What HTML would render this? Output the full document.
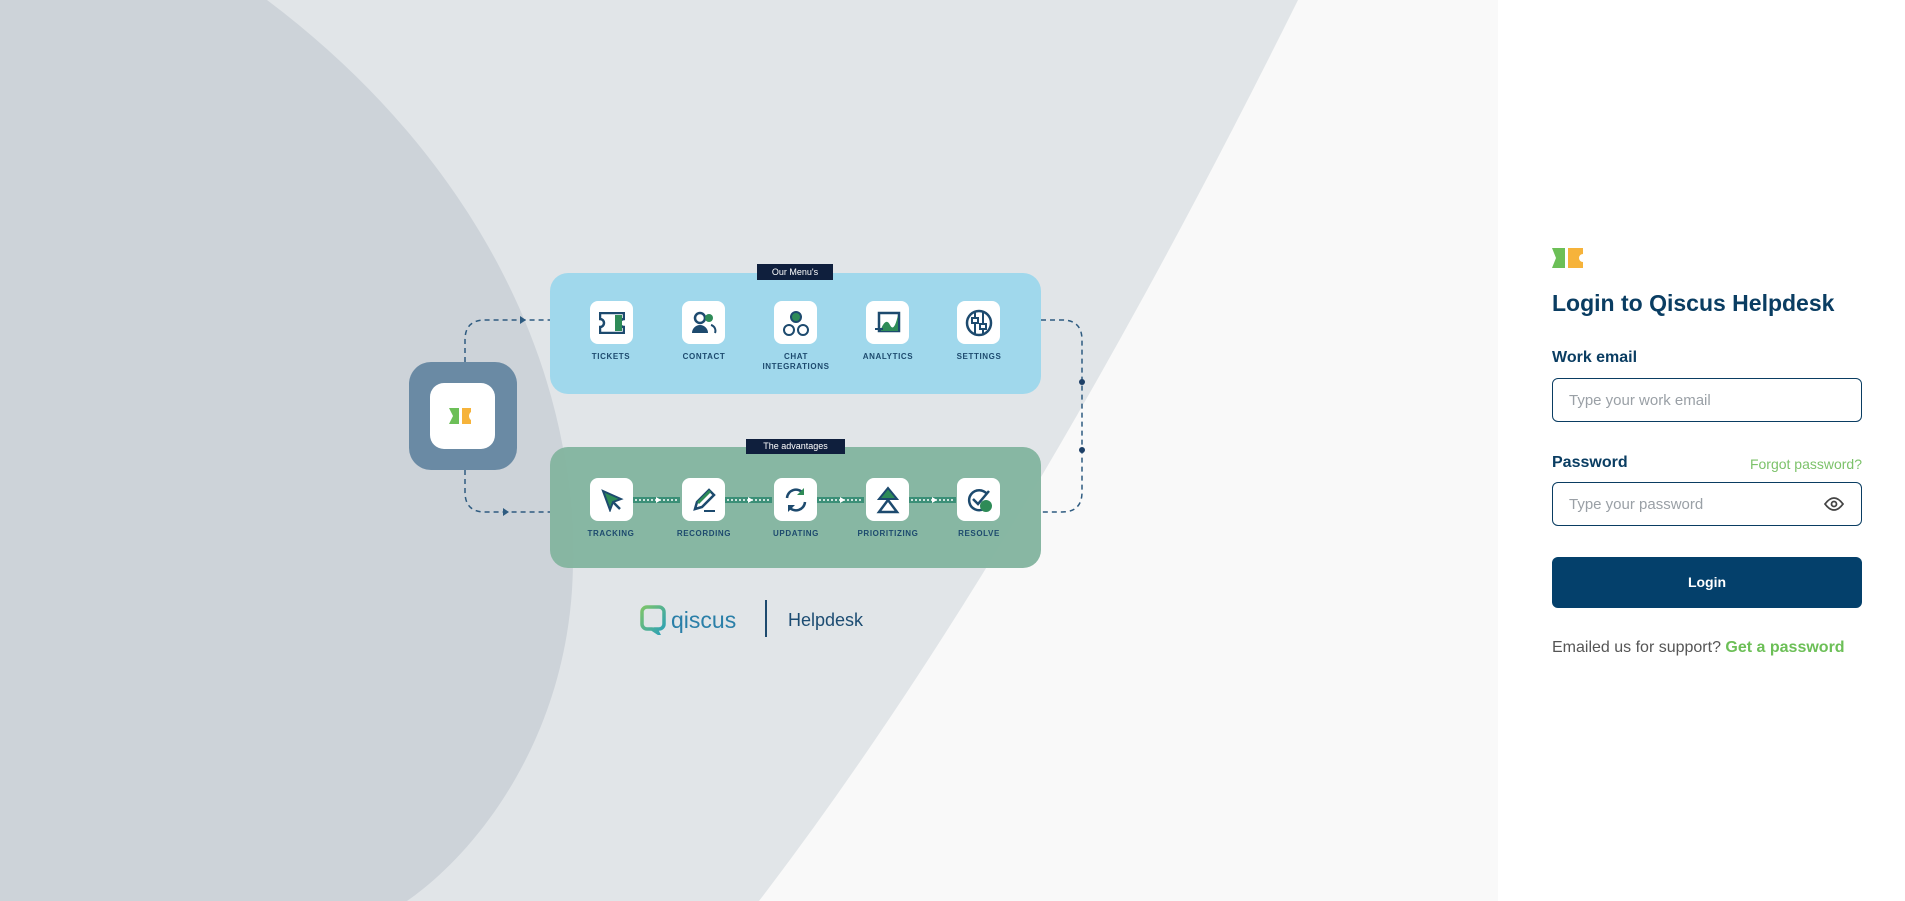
<!DOCTYPE html>
<html><head><meta charset="utf-8"><style>
*{margin:0;padding:0;box-sizing:border-box}
body{width:1905px;height:901px;overflow:hidden;background:#f9f9f9;font-family:"Liberation Sans",sans-serif;position:relative}
.a{position:absolute}
.ib{position:absolute;width:43px;height:43px;background:#fff;border-radius:8px;display:flex;align-items:center;justify-content:center}
.lb{position:absolute;width:110px;text-align:center;font-size:8px;font-weight:bold;color:#1d4a6e;letter-spacing:.6px;line-height:10px}
.in{position:absolute;left:1552px;width:310px;height:44px;border:1.5px solid #0a3d62;border-radius:6px;font-size:15px;color:#9aa0a6;padding:13px 0 0 16px}
</style></head><body>
<svg class="a" style="left:0;top:0" width="1498" height="901">
<path d="M267 0 L1298 0 Q1020 560 759 901 L0 901 Z" fill="#e1e5e8"/>
<path d="M0 0 L267 0 C480 160 585 380 572 590 C562 740 480 850 407 901 L0 901 Z" fill="#cdd3d9"/>
<g fill="none" stroke="#2e5b80" stroke-width="1.5" stroke-dasharray="5,4">
<path d="M465 362 V340 Q465 320 485 320 H550"/>
<path d="M465 470 V492 Q465 512 485 512 H550"/>
<path d="M1041 320 H1062 Q1082 320 1082 340 V492 Q1082 512 1062 512 H1041"/>
</g>
<path d="M520 316 L526 320 L520 324Z M503 508 L509 512 L503 516Z" fill="#2e5b80"/>
<circle cx="1082" cy="382" r="3" fill="#1d3f66"/><circle cx="1082" cy="450" r="3" fill="#1d3f66"/>
<rect x="550" y="273" width="491" height="121" rx="18" fill="#a0d8ec"/>
<rect x="550" y="447" width="491" height="121" rx="18" fill="#84b5a0" opacity=".97"/>
<rect x="409" y="362" width="108" height="108" rx="22" fill="#6a8aa4"/>
<rect x="430" y="383" width="65" height="66" rx="14" fill="#fff"/>
<path d="M449 408 h10 v16 h-10 l4 -8z" fill="#6cbf57"/><path d="M462 408 h9 v4 a5 5 0 0 0 0 8 v4 h-9z" fill="#f6b33a"/>
<g fill="#3b8f77"><rect x="633" y="497" width="47" height="6"/><rect x="725" y="497" width="47" height="6"/><rect x="817" y="497" width="47" height="6"/><rect x="909" y="497" width="47" height="6"/></g>
<g stroke="#fff" stroke-width="1.5" stroke-dasharray="2,2"><path d="M635 500h43M727 500h43M819 500h43M911 500h43"/></g>
<g fill="#fff"><path d="M656 497l5 3-5 3z M748 497l5 3-5 3z M840 497l5 3-5 3z M932 497l5 3-5 3z"/></g>
</svg>
<div class="a" style="left:757px;top:264px;width:76px;height:16px;background:#0f1f3d;color:#fff;font-size:9px;text-align:center;line-height:16px">Our Menu's</div>
<div class="a" style="left:746px;top:439px;width:99px;height:15px;background:#0f1f3d;color:#fff;font-size:9px;text-align:center;line-height:15px">The advantages</div>
<div class="ib" style="left:590px;top:301px"><svg width="26" height="22"><path d="M1 1h24v6a4 4 0 0 0 0 8v6H1v-6a4 4 0 0 0 0-8z" fill="none" stroke="#1d4a6e" stroke-width="2.5"/><path d="M16 3h7v16h-7z" fill="#2e8b57"/></svg></div>
<div class="ib" style="left:682px;top:301px"><svg width="26" height="24"><circle cx="9" cy="7" r="5" fill="none" stroke="#1d4a6e" stroke-width="2.5"/><circle cx="18" cy="7" r="4" fill="#2e8b57"/><path d="M1 22a8 8 0 0 1 16 0z" fill="#1d4a6e"/><path d="M20 14a6 6 0 0 1 4 8" fill="none" stroke="#1d4a6e" stroke-width="2"/></svg></div>
<div class="ib" style="left:774px;top:301px"><svg width="28" height="28"><circle cx="14" cy="8" r="5" fill="#2e8b57" stroke="#1d4a6e" stroke-width="2"/><circle cx="7" cy="21" r="5" fill="none" stroke="#1d4a6e" stroke-width="2"/><circle cx="21" cy="21" r="5" fill="none" stroke="#1d4a6e" stroke-width="2"/></svg></div>
<div class="ib" style="left:866px;top:301px"><svg width="28" height="24"><rect x="5" y="2" width="20" height="18" fill="none" stroke="#1d4a6e" stroke-width="2.5"/><path d="M7 18 q5-12 9-4 t8-10v16H7z" fill="#2e8b57"/><path d="M1 18h8" stroke="#1d4a6e" stroke-width="2"/></svg></div>
<div class="ib" style="left:957px;top:301px"><svg width="28" height="28"><circle cx="14" cy="14" r="12" fill="none" stroke="#1d4a6e" stroke-width="2.5"/><path d="M10 3v22M18 3v22" stroke="#1d4a6e" stroke-width="2"/><rect x="7" y="9" width="6" height="5" fill="#fff" stroke="#1d4a6e" stroke-width="2"/><rect x="15" y="15" width="6" height="5" fill="#fff" stroke="#1d4a6e" stroke-width="2"/></svg></div>
<div class="lb" style="left:556px;top:352px">TICKETS</div>
<div class="lb" style="left:649px;top:352px">CONTACT</div>
<div class="lb" style="left:741px;top:352px">CHAT<br>INTEGRATIONS</div>
<div class="lb" style="left:833px;top:352px">ANALYTICS</div>
<div class="lb" style="left:924px;top:352px">SETTINGS</div>
<div class="ib" style="left:590px;top:478px"><svg width="24" height="24"><path d="M3 3l18 8-8 3-3 8z" fill="#2e8b57" stroke="#1d4a6e" stroke-width="2"/><path d="M13 14l7 7" stroke="#1d4a6e" stroke-width="2.5"/></svg></div>
<div class="ib" style="left:682px;top:478px"><svg width="26" height="26"><path d="M4 22l2-7 12-12 5 5-12 12z" fill="none" stroke="#1d4a6e" stroke-width="2.5"/><path d="M6 15l12-12 2 2-12 12z" fill="#2e8b57"/><path d="M13 24h11" stroke="#1d4a6e" stroke-width="2"/></svg></div>
<div class="ib" style="left:774px;top:478px"><svg width="28" height="28"><path d="M5 12a9 9 0 0 1 16-5M23 16a9 9 0 0 1-16 5" fill="none" stroke="#1d4a6e" stroke-width="2.5"/><path d="M22 2v7h-7z" fill="#2e8b57"/><path d="M6 26v-7h7z" fill="#1d4a6e"/></svg></div>
<div class="ib" style="left:866px;top:478px"><svg width="24" height="28"><path d="M12 2l9 11H3z" fill="#2e8b57" stroke="#1d4a6e" stroke-width="2"/><path d="M12 14l9 12H3z" fill="none" stroke="#1d4a6e" stroke-width="2.5"/></svg></div>
<div class="ib" style="left:957px;top:478px"><svg width="28" height="28"><path d="M22 8a10 10 0 1 0 2 8" fill="none" stroke="#1d4a6e" stroke-width="2.5"/><path d="M8 13l5 5 11-13" fill="none" stroke="#1d4a6e" stroke-width="2.5"/><circle cx="21" cy="20" r="6" fill="#2e8b57"/></svg></div>
<div class="lb" style="left:556px;top:529px">TRACKING</div>
<div class="lb" style="left:649px;top:529px">RECORDING</div>
<div class="lb" style="left:741px;top:529px">UPDATING</div>
<div class="lb" style="left:833px;top:529px">PRIORITIZING</div>
<div class="lb" style="left:924px;top:529px">RESOLVE</div>
<svg class="a" style="left:640px;top:605px" width="26" height="30"><defs><linearGradient id="g" x1="0" y1="0" x2="1" y2="1"><stop offset="0" stop-color="#7cc46a"/><stop offset="1" stop-color="#2aa0b8"/></linearGradient></defs><path d="M7 2h12a5 5 0 0 1 5 5v12a5 5 0 0 1-5 5h-3l2 4-6-4H7a5 5 0 0 1-5-5V7a5 5 0 0 1 5-5z" fill="none" stroke="url(#g)" stroke-width="3.5"/></svg>
<div class="a" style="left:671px;top:606px;font-size:23px;color:#2a7fa8;line-height:28px">qiscus</div>
<div class="a" style="left:765px;top:600px;width:2px;height:37px;background:#1d4a6e"></div>
<div class="a" style="left:788px;top:608px;font-size:18px;color:#1c4c72;line-height:24px">Helpdesk</div>
<div class="a" style="left:1498px;top:0;width:407px;height:901px;background:#fff"></div>
<svg class="a" style="left:1552px;top:248px" width="31" height="20"><path d="M0 0h13v20H0l4-10z" fill="#6cbf57"/><path d="M16 0h15v6a4 4 0 0 0 0 8v6H16z" fill="#f6b33a"/></svg>
<div class="a" style="left:1552px;top:288px;font-size:23px;font-weight:bold;color:#0a3d62;line-height:30px">Login to Qiscus Helpdesk</div>
<div class="a" style="left:1552px;top:349px;font-size:16px;font-weight:bold;color:#0a3d62">Work email</div>
<div class="in" style="top:378px">Type your work email</div>
<div class="a" style="left:1552px;top:454px;font-size:16px;font-weight:bold;color:#0a3d62">Password</div>
<div class="a" style="left:1690px;top:456px;width:172px;text-align:right;font-size:14px;color:#7cc26a">Forgot password?</div>
<div class="in" style="top:482px">Type your password</div>
<svg class="a" style="left:1824px;top:497px" width="20" height="14"><path d="M1 7q9-12 18 0q-9 12-18 0z" fill="none" stroke="#444" stroke-width="1.8"/><circle cx="10" cy="7" r="2.5" fill="none" stroke="#444" stroke-width="1.8"/></svg>
<div class="a" style="left:1552px;top:557px;width:310px;height:51px;background:#04406b;border-radius:6px;color:#fff;font-size:14px;font-weight:bold;text-align:center;line-height:51px">Login</div>
<div class="a" style="left:1552px;top:639px;font-size:16px;color:#555">Emailed us for support? <b style="color:#6cbf57">Get a password</b></div>
</body></html>
